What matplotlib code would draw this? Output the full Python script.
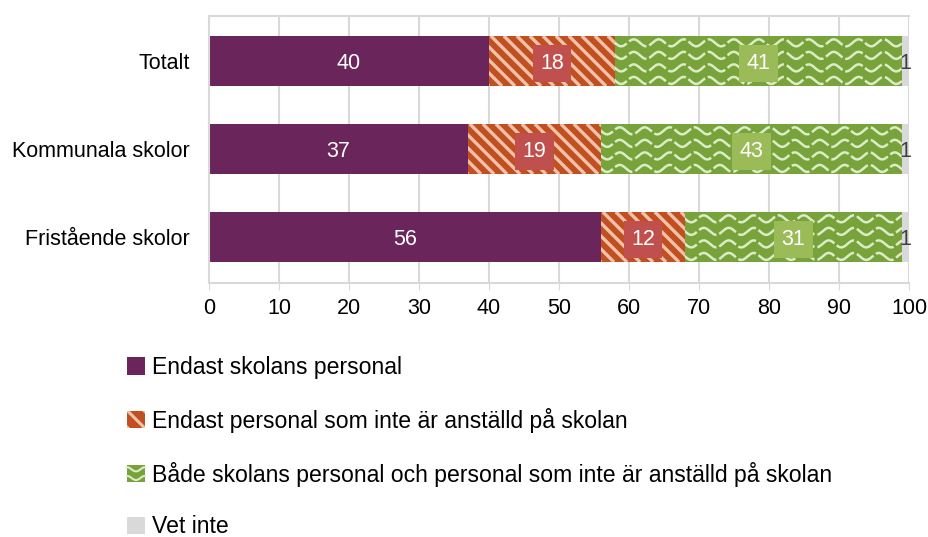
import numpy as np
import matplotlib
matplotlib.use("Agg")
import matplotlib.pyplot as plt
from matplotlib.patches import Rectangle, Patch
from matplotlib.lines import Line2D
from matplotlib.legend_handler import HandlerBase

plt.rcParams['font.family'] = ['Liberation Sans', 'DejaVu Sans']
plt.rcParams['hatch.linewidth'] = 2.2

categories = ["Totalt", "Kommunala skolor", "Fristående skolor"]
series = [
    "Endast skolans personal",
    "Endast personal som inte är anställd på skolan",
    "Både skolans personal och personal som inte är anställd på skolan",
    "Vet inte",
]
only_school = [40, 37, 56]
only_external = [18, 19, 12]
both = [41, 43, 31]
dont_know = [1, 1, 1]

purple = "#6A255A"
orange = "#C24F1F"
orange_stripe = "#F0C2AC"
orange_box = "#C0504D"
green = "#77A33A"
green_wave = "#DCEBC8"
green_box = "#9BBB59"
grey = "#D9D9D9"
grid_c = "#D9D9D9"

W, H = 929, 537
fig = plt.figure(figsize=(W / 100, H / 100), dpi=100)
ax_px = (209, 283, 700, 267)  # left, bottom (from top), width, height in px
ax = fig.add_axes([ax_px[0] / W, 1 - ax_px[1] / H, ax_px[2] / W, ax_px[3] / H])

y = np.arange(len(categories))
h = 0.57
y_top = -45 / 88
y_bot = 2 + 46 / 88
left = np.zeros(len(categories))

b1 = ax.barh(y, only_school, left=left, height=h, color=purple, lw=0)
left += only_school
b2 = ax.barh(y, only_external, left=left, height=h, color=orange, lw=0)
left += only_external
b3 = ax.barh(y, both, left=left, height=h, color=green, lw=0)
left += both
b4 = ax.barh(y, dont_know, left=left, height=h, color=grey, lw=0)

# pixel scale of data units
px_x = ax_px[2] / 100
px_y = ax_px[3] / (y_bot - y_top)

# diagonal stripes on the orange bars
step = 13 / px_x
for rect in b2:
    x0, x1 = rect.get_x(), rect.get_x() + rect.get_width()
    yb, yt = rect.get_y(), rect.get_y() + rect.get_height()
    span = (yt - yb) * px_y / px_x
    for xs in np.arange(x0 - span, x1 + step, step):
        ln, = ax.plot([xs, xs + span], [yb, yt], color=orange_stripe,
                      lw=2.4, solid_capstyle="butt", zorder=3)
        ln.set_clip_path(rect)

# wavy pattern on the green bars
per = 25 / px_x
amp = 3.5 / px_y
for rect in b3:
    x0 = rect.get_x()
    xs = np.linspace(x0 - per, x0 + rect.get_width() + per, 400)
    yb = rect.get_y()
    for k in range(4):
        yc = yb + (k + 0.55) * rect.get_height() / 4
        ln, = ax.plot(xs, yc + amp * np.sin(2 * np.pi * (xs - x0) / per),
                      color=green_wave, lw=1.8, ls=(0, (8, 1.2)), zorder=3)
        ln.set_clip_path(rect)

# labels
def add_labels(bars, vals, box):
    for r, v in zip(bars, vals):
        cx = r.get_x() + r.get_width() / 2
        cy = r.get_y() + r.get_height() / 2
        ax.text(cx, cy, str(v), ha="center", va="center_baseline", color="white",
                fontsize=15.5, zorder=5,
                bbox=dict(boxstyle="square,pad=0.35", fc=box, ec="none"))

add_labels(b1, only_school, purple)
add_labels(b2, only_external, orange_box)
add_labels(b3, both, green_box)
for r, v in zip(b4, dont_know):
    ax.text(r.get_x() + r.get_width() / 2, r.get_y() + r.get_height() / 2, str(v),
            ha="center", va="center_baseline", color="#404040", fontsize=15.5,
            zorder=5)

ax.set_xlim(0, 100)
ax.set_ylim(y_bot, y_top)
ax.set_yticks(y)
ax.set_yticklabels(categories, fontsize=15.5)
ax.set_xticks(np.arange(0, 101, 10))
ax.tick_params(axis="x", labelsize=15.5, length=5, color=grid_c, pad=6)
ax.tick_params(axis="y", length=0, pad=14)
ax.grid(axis="x", color=grid_c, lw=1.5)
ax.set_axisbelow(True)
for s in ["left", "bottom", "top"]:
    ax.spines[s].set_color(grid_c)
    ax.spines[s].set_linewidth(1.5)
ax.spines["right"].set_visible(False)


class WaveHandler(HandlerBase):
    def create_artists(self, legend, orig_handle, xd, yd, w, hh, fontsize, trans):
        r = Rectangle((-xd, -yd), w, hh, fc=green, ec="none", transform=trans)
        xs = np.linspace(-xd, -xd + w, 50)
        arts = [r]
        for k in range(2):
            yc = -yd + (k + 0.5) * hh / 2
            ln = Line2D(xs, yc + hh * 0.12 * np.cos(2 * np.pi * (xs + xd) / w),
                        color=green_wave, lw=1.5, transform=trans)
            arts.append(ln)
        return arts


handles = [
    Patch(fc=purple, ec="none"),
    Patch(fc=orange, ec=orange_stripe, lw=0, hatch="\\\\"),
    Patch(fc=green, ec="none"),
    Patch(fc=grey, ec="none"),
]
fig.legend(handles, series, loc="upper left",
           bbox_to_anchor=(127 / W, 1 - 356 / H), frameon=False,
           fontsize=16.6, handlelength=0.78, handleheight=0.78, handletextpad=0.3,
           labelspacing=1.25, borderpad=0, borderaxespad=0,
           handler_map={handles[2]: WaveHandler()})

fig.savefig("out.png", dpi=100)
